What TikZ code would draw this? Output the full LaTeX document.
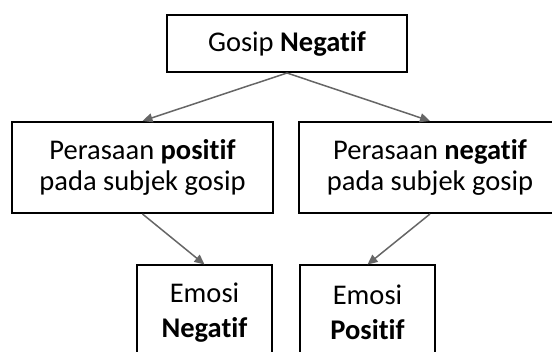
\documentclass[tikz,border=0pt]{standalone}
\usepackage{fontspec}
\setmainfont[RawFeature={-liga}]{Carlito}
\usetikzlibrary{arrows.meta}
\begin{document}
\begin{tikzpicture}[x=1pt,y=-1pt,
  box/.style={draw=black,line width=2pt,fill=white,align=center,inner sep=0pt,
    font=\fontsize{28.5}{30.5}\selectfont},
  smallbox/.style={box,minimum width=135pt,minimum height=94pt,
    font=\fontsize{28.5}{35}\selectfont},
  conn/.style={draw=black!60,line width=1.5pt,-{Triangle[length=10pt,width=9pt]}}]
\useasboundingbox (0,0) rectangle (552,352);
\clip (0,0) rectangle (552,352);
\node[box,minimum width=240pt,minimum height=57pt] (top) at (287,43.5) {Gosip \textbf{Negatif}};
\node[box,minimum width=261pt,minimum height=91pt] (lm) at (142.5,167.5) {Perasaan \textbf{positif}\\pada subjek gosip};
\node[box,minimum width=262pt,minimum height=91pt] (rm) at (430,167.5) {Perasaan \textbf{negatif}\\pada subjek gosip};
\node[smallbox] (bl) at (204.5,312.5) {Emosi\\\textbf{Negatif}};
\node[smallbox] (br) at (367.5,312.5) {Emosi\\\textbf{Positif}};
\draw[conn] (top.south) -- (lm.north);
\draw[conn] (top.south) -- (rm.north);
\draw[conn] (lm.south) -- (bl.north);
\draw[conn] (rm.south) -- (br.north);
\end{tikzpicture}
\end{document}
